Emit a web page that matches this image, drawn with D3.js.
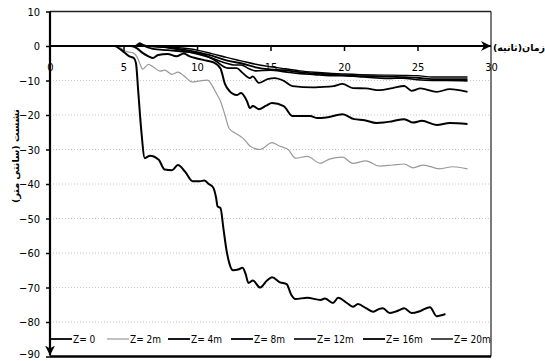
<!DOCTYPE html>
<html><head><meta charset="utf-8">
<script src="https://cdn.jsdelivr.net/npm/d3@7/dist/d3.min.js"></script>
<style>
body{margin:0;background:#fff;}
text{font-family:"Liberation Sans Narrow","DejaVu Sans Condensed","Liberation Sans",sans-serif;}
.fa{font-family:"DejaVu Sans",sans-serif;}
</style></head>
<body><svg id="c" width="545" height="361"></svg>
<script>
// ---- data (time in s, settlement in cm) ----
const xTicks = [0,5,10,15,20,25,30];
const yTicks = [10,0,-10,-20,-30,-40,-50,-60,-70,-80,-90];
const gridValues = [-10,-20,-30,-40,-50,-60,-70,-80];
const seriesNames = ["Z= 0","Z= 2m","Z= 4m","Z= 8m","Z= 12m","Z= 16m","Z= 20m"];
const seriesColors = ["#000","#999","#000","#000","#000","#000","#000"];
const seriesWidths = [2,1.2,2,1.8,1.6,1.8,1.4];
const xTitle = "زمان(ثانیه)";
const yTitle = "نشست (سانتی متر)";

const z0 = [[0,0],[4.4,0],[4.8,-1],[5.4,-3],[5.7,-3.5],[5.85,-5],[6.0,-13],[6.2,-24],[6.45,-32.5],[6.8,-31.8],[7.4,-33],[7.8,-35.8],[8.3,-36],[8.7,-34.5],[9.2,-36.5],[9.7,-39.2],[10.2,-39.2],[10.5,-39],[10.8,-40],[11.1,-41],[11.3,-44],[11.4,-46.5],[11.6,-47],[11.8,-53],[12.0,-59],[12.2,-63],[12.45,-65],[12.8,-64.8],[13.1,-64.3],[13.3,-66],[13.5,-68.7],[13.8,-68],[14.3,-70],[14.76,-68],[15.1,-67],[15.65,-68.5],[16.1,-69],[16.4,-72],[16.7,-73.3],[17.5,-73],[18.4,-73.6],[18.7,-73.2],[19.25,-74.5],[19.6,-73],[20.2,-74.5],[20.6,-75.6],[20.95,-74.8],[21.5,-76],[22.0,-77],[22.4,-76.2],[22.65,-76],[23.1,-77.4],[23.5,-77],[23.8,-76.5],[24.1,-76],[24.6,-77.4],[25.2,-76.8],[25.85,-75.7],[26.3,-78.3],[26.9,-77.7]];
const z2 = [[0,0],[4.6,0],[5.1,-1.5],[5.65,-2],[5.9,-3],[6.1,-5],[6.3,-6.7],[6.7,-5.3],[7.0,-6],[7.5,-7.3],[7.8,-7],[8.3,-8.2],[8.7,-7.6],[9.2,-9],[9.65,-10.4],[10.2,-10.1],[10.7,-9.9],[11.1,-12],[11.3,-13.6],[11.6,-16],[11.9,-20],[12.2,-24],[12.5,-25],[12.9,-26],[13.2,-27],[13.4,-28],[13.6,-29],[14.3,-30],[15.1,-28],[15.6,-29],[16.2,-30],[16.7,-32.5],[17.5,-32],[18.4,-34],[19.0,-32.8],[19.9,-32.2],[20.6,-34],[21.5,-33.3],[22.4,-34.8],[23.3,-34.5],[24.1,-34.2],[24.7,-35.3],[25.4,-34.5],[26.5,-35.6],[27.4,-35],[28.4,-35.6]];
const z4 = [[0,0],[5.5,0],[5.9,-0.6],[6.3,-2],[6.7,-3],[7.0,-3.5],[7.35,-2.6],[8.0,-2.3],[8.6,-3],[9.1,-2.2],[9.5,-3],[10.0,-3.6],[10.7,-4.3],[11.2,-4.9],[11.6,-6.5],[11.9,-11],[12.2,-13],[12.7,-14.2],[13.0,-13.6],[13.4,-16],[13.6,-18],[13.8,-17.4],[14.2,-18.3],[14.7,-17.3],[15.1,-16.5],[15.9,-17.4],[16.5,-20.3],[17.7,-20.3],[18.2,-20.9],[18.8,-20.7],[19.9,-19.8],[20.7,-21.2],[21.4,-21.5],[22.2,-22.3],[22.7,-22.2],[23.3,-21.8],[24.1,-21.2],[24.7,-22.2],[25.3,-21.7],[26.3,-22.9],[27.2,-22.3],[28.4,-22.6]];
const z8 = [[0,0],[5.8,0],[6.1,0.8],[6.4,0],[7.0,-0.8],[8.0,-1.2],[9.0,-1.6],[10.0,-2.0],[10.6,-2.8],[11.1,-3.8],[12.1,-6.4],[12.7,-6.4],[13.1,-7.8],[13.6,-9.3],[13.8,-8.8],[14.2,-10.7],[14.8,-9.6],[15.3,-9.3],[15.9,-10.1],[16.5,-11.6],[17.9,-12],[18.4,-11.9],[19.3,-11.6],[19.9,-11],[20.6,-12.2],[21.5,-12.3],[22.4,-12.8],[23.3,-12.2],[24.1,-11.6],[24.6,-13],[25.2,-12.3],[26.3,-13.3],[27.2,-12.5],[28.4,-13.3]];
const z12 = [[0,0],[5.9,0],[6.2,0.5],[6.6,0],[8.0,-0.5],[9.0,-1.3],[10.0,-2.3],[11.0,-3.5],[12.0,-5],[12.5,-5.5],[13.0,-5.5],[13.5,-6.5],[14.0,-7.2],[15.0,-7.0],[16.0,-7.5],[17.0,-8.0],[18.0,-8.3],[19.0,-8.6],[20.0,-8.6],[21.0,-8.9],[22.0,-9.2],[23.0,-9.4],[24.0,-9.3],[25.0,-9.8],[26.0,-10],[27.0,-10],[28.4,-10.1]];
const z16 = [[0,0],[7.0,0],[8.0,-0.4],[9.0,-1.0],[10.0,-1.8],[11.0,-2.8],[12.0,-4.2],[13.0,-5.0],[14.0,-6.2],[15.0,-6.8],[16.0,-7.0],[17.0,-7.6],[18.0,-8.0],[19.0,-8.2],[20.0,-8.5],[22.0,-8.8],[24.0,-9.0],[25.0,-9.2],[26.0,-9.6],[28.4,-9.6]];
const z20 = [[0,0],[7.5,0],[8.0,-0.2],[9.0,-0.6],[10.0,-1.2],[11.0,-2.2],[12.0,-3.3],[13.0,-4.3],[14.0,-5.3],[15.0,-6.0],[16.0,-6.6],[17.0,-7.2],[18.0,-7.6],[19.0,-7.9],[20.0,-8.1],[22.0,-8.4],[24.0,-8.5],[25.0,-8.6],[26.0,-9.0],[28.4,-9.0]];
const allSeries = [z0,z2,z4,z8,z12,z16,z20];

// ---- chart ----
const svg = d3.select("#c");
const x = d3.scaleLinear().domain([0,30]).range([50,491]);
const y = d3.scaleLinear().domain([-90,10]).range([356.5,11.5]);

const defs = svg.append("defs");
defs.append("marker").attr("id","arr").attr("viewBox","-10 -6 12 12")
  .attr("refX",0).attr("refY",0).attr("markerWidth",12).attr("markerHeight",12)
  .attr("markerUnits","userSpaceOnUse").attr("orient","auto")
  .append("path").attr("d","M0,0 L-10,-5 L-7,0 L-10,5 Z").attr("fill","#000");

// grid
svg.append("g").selectAll("line").data(gridValues).join("line")
  .attr("x1",x(0)).attr("x2",x(30)).attr("y1",d=>y(d)).attr("y2",d=>y(d))
  .attr("stroke","#c8c8c8").attr("stroke-width",1).attr("stroke-dasharray","1,2");

// frame
svg.append("line").attr("x1",x(0)).attr("x2",x(30)).attr("y1",y(10)).attr("y2",y(10)).attr("stroke","#222").attr("stroke-width",1.5);
svg.append("line").attr("x1",x(30)).attr("x2",x(30)).attr("y1",y(10)).attr("y2",y(-90)).attr("stroke","#222").attr("stroke-width",1.2);
svg.append("line").attr("x1",x(0)).attr("x2",x(30)).attr("y1",y(-90)).attr("y2",y(-90)).attr("stroke","#000").attr("stroke-width",2.5);

// series
const line = d3.line().x(d=>x(d[0])).y(d=>y(d[1])).curve(d3.curveMonotoneX);
const order = [6,5,4,3,2,1,0];
svg.append("g").selectAll("path").data(order).join("path")
  .attr("d",i=>line(allSeries[i])).attr("fill","none")
  .attr("stroke",i=>seriesColors[i]).attr("stroke-width",i=>seriesWidths[i])
  .attr("stroke-linejoin","round");

// y axis
const yAxis = svg.append("g").attr("transform",`translate(${x(0)},0)`)
  .call(d3.axisLeft(y).tickValues(yTicks).tickSize(4).tickPadding(6).tickFormat(d3.format("d")));
yAxis.select(".domain").remove();
yAxis.selectAll("line").attr("stroke","#000").attr("stroke-width",1.5);
yAxis.selectAll("text").attr("font-size",11).attr("fill","#000");
yAxis.selectAll(".tick").filter(d=>d===-90).select("text").attr("dy","0.1em");
svg.append("line").attr("x1",x(0)).attr("x2",x(0)).attr("y1",y(10)).attr("y2",y(-90)-1)
  .attr("stroke","#000").attr("stroke-width",2.2).attr("marker-end","url(#arr)");

// x axis at y=0
const xAxis = svg.append("g").attr("transform",`translate(0,${y(0)})`)
  .call(d3.axisBottom(x).tickValues(xTicks).tickSize(5).tickPadding(12).tickFormat(d3.format("d")));
xAxis.select(".domain").remove();
xAxis.selectAll("line").attr("stroke","#000").attr("stroke-width",1.5);
xAxis.selectAll(".tick").filter(d=>d===0||d===30).select("line").remove();
xAxis.selectAll("text").attr("font-size",11).attr("fill","#000");
svg.append("line").attr("x1",x(0)).attr("x2",x(30)).attr("y1",y(0)).attr("y2",y(0))
  .attr("stroke","#000").attr("stroke-width",2.2).attr("marker-end","url(#arr)");

// titles
svg.append("text").attr("class","fa").attr("x",493).attr("y",y(0)+5)
  .attr("font-size",9.5).attr("font-weight","bold").attr("fill","#000").attr("direction","rtl")
  .attr("text-anchor","end").text(xTitle);
svg.append("text").attr("class","fa").attr("transform","translate(19,156) rotate(-90)")
  .attr("text-anchor","middle").attr("font-size",9.5).attr("font-weight","bold").attr("fill","#000")
  .attr("direction","rtl").text(yTitle);

// legend
const legX = [50,107,168,231,294,363,431];
const lg = svg.append("g").attr("transform","translate(0,339)");
const items = lg.selectAll("g").data(seriesNames).join("g")
  .attr("transform",(d,i)=>`translate(${legX[i]},0)`);
items.append("line").attr("x1",0).attr("x2",22).attr("y1",0).attr("y2",0)
  .attr("stroke",(d,i)=>seriesColors[i]).attr("stroke-width",(d,i)=>Math.min(seriesWidths[i],1.8));
items.append("text").attr("x",23).attr("y",3.6).attr("font-size",10).attr("fill","#000").text(d=>d);
</script></body></html>
